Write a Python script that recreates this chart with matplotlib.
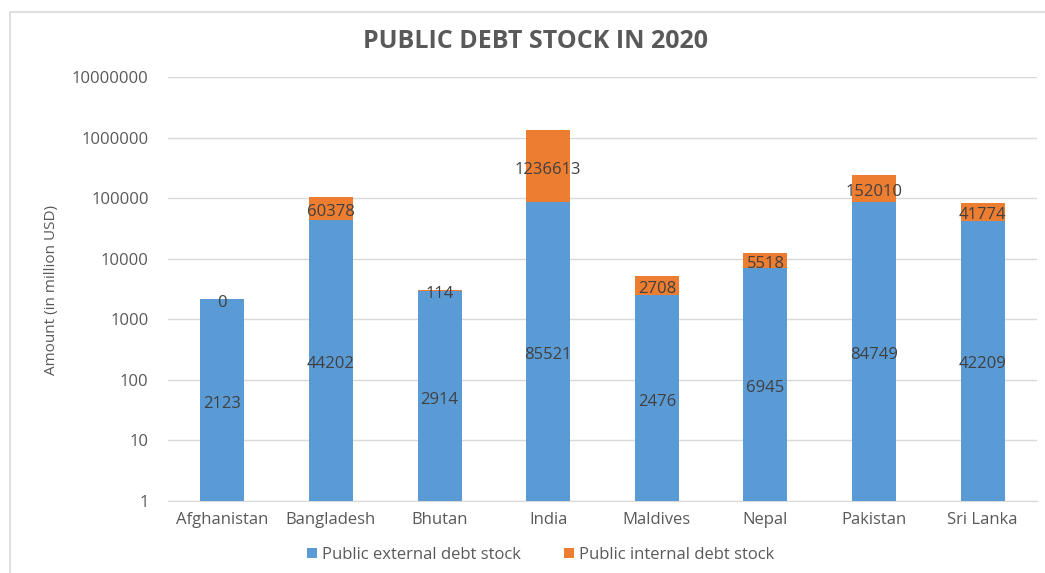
import numpy as np
import matplotlib.pyplot as plt
from matplotlib.patches import Rectangle
from matplotlib.ticker import FixedLocator, FuncFormatter, NullLocator
from matplotlib.transforms import ScaledTranslation

plt.rcParams['font.family'] = ['Open Sans', 'DejaVu Sans']

# public debt stock, million USD
countries = ['Afghanistan', 'Bangladesh', 'Bhutan', 'India', 'Maldives', 'Nepal', 'Pakistan', 'Sri Lanka']
external_debt = [2123, 44202, 2914, 85521, 2476, 6945, 84749, 42209]
internal_debt = [0, 60378, 114, 1236613, 2708, 5518, 152010, 41774]
y_ticks = [1, 10, 100, 1000, 10000, 100000, 1000000, 10000000]

blue = '#5B9BD5'
orange = '#ED7D31'
grey_text = '#595959'
label_col = '#404040'
grid_col = '#D9D9D9'

ext = np.array(external_debt, dtype=float)
inte = np.array(internal_debt, dtype=float)
total = ext + inte
x = np.arange(len(countries))

fig = plt.figure(figsize=(10.45, 5.73), dpi=100)
fig.patches.append(Rectangle((10 / 1045, -0.2), 1.2, 1 - 12 / 573 + 0.2,
                             transform=fig.transFigure, fill=False,
                             edgecolor=grid_col, linewidth=1.2))

ax = fig.add_axes([168 / 1045, 72 / 573, 869 / 1045, 424 / 573])
ax.set_yscale('log')
ax.set_ylim(1, 1e7)
ax.set_xlim(-0.5, len(countries) - 0.5)

ax.bar(x, ext - 1, bottom=1, width=0.405, color=blue, label='Public external debt stock', zorder=2)
ax.bar(x, inte, bottom=ext, width=0.405, color=orange, label='Public internal debt stock', zorder=2)

# value labels sit at the middle of each segment (geometric middle on log axis)
nudge = ax.transData + ScaledTranslation(0, -2.5 / 72, fig.dpi_scale_trans)
for i in range(len(countries)):
    ax.text(x[i], np.sqrt(ext[i]), f'{external_debt[i]}', ha='center', va='center',
            fontsize=12, color=label_col, zorder=3, transform=nudge)
    ax.text(x[i], np.sqrt(ext[i] * total[i]), f'{internal_debt[i]}', ha='center', va='center',
            fontsize=12, color=label_col, zorder=3, transform=nudge)

ax.yaxis.set_major_locator(FixedLocator(y_ticks))
ax.yaxis.set_minor_locator(NullLocator())
ax.yaxis.set_major_formatter(FuncFormatter(lambda v, p: f'{int(round(v))}'))
ax.set_xticks(x)
ax.set_xticklabels(countries)
ax.tick_params(axis='both', length=0, labelsize=12, labelcolor=grey_text)
ax.tick_params(axis='y', pad=14)
ax.tick_params(axis='x', pad=8)
ax.grid(axis='y', color=grid_col, linewidth=1, zorder=0)
for side in ['top', 'right', 'left']:
    ax.spines[side].set_visible(False)
ax.spines['bottom'].set_color(grid_col)
ax.spines['bottom'].set_zorder(1)

fig.text(535.5 / 1045, 1 - 42 / 573, 'PUBLIC DEBT STOCK IN 2020', ha='center', va='center',
         fontsize=18, fontweight='bold', color=grey_text)
fig.text(52 / 1045, 1 - 290 / 573, 'Amount (in million USD)', rotation=90, ha='center', va='center',
         fontsize=11, color=grey_text)

fig.legend(loc='center', bbox_to_anchor=(541 / 1045, 1 - 555 / 573), ncol=2, frameon=False,
           fontsize=12, labelcolor=grey_text, handlelength=0.6, handleheight=0.6,
           handletextpad=0.3, columnspacing=2.6)

fig.savefig('out.png', dpi=100)
